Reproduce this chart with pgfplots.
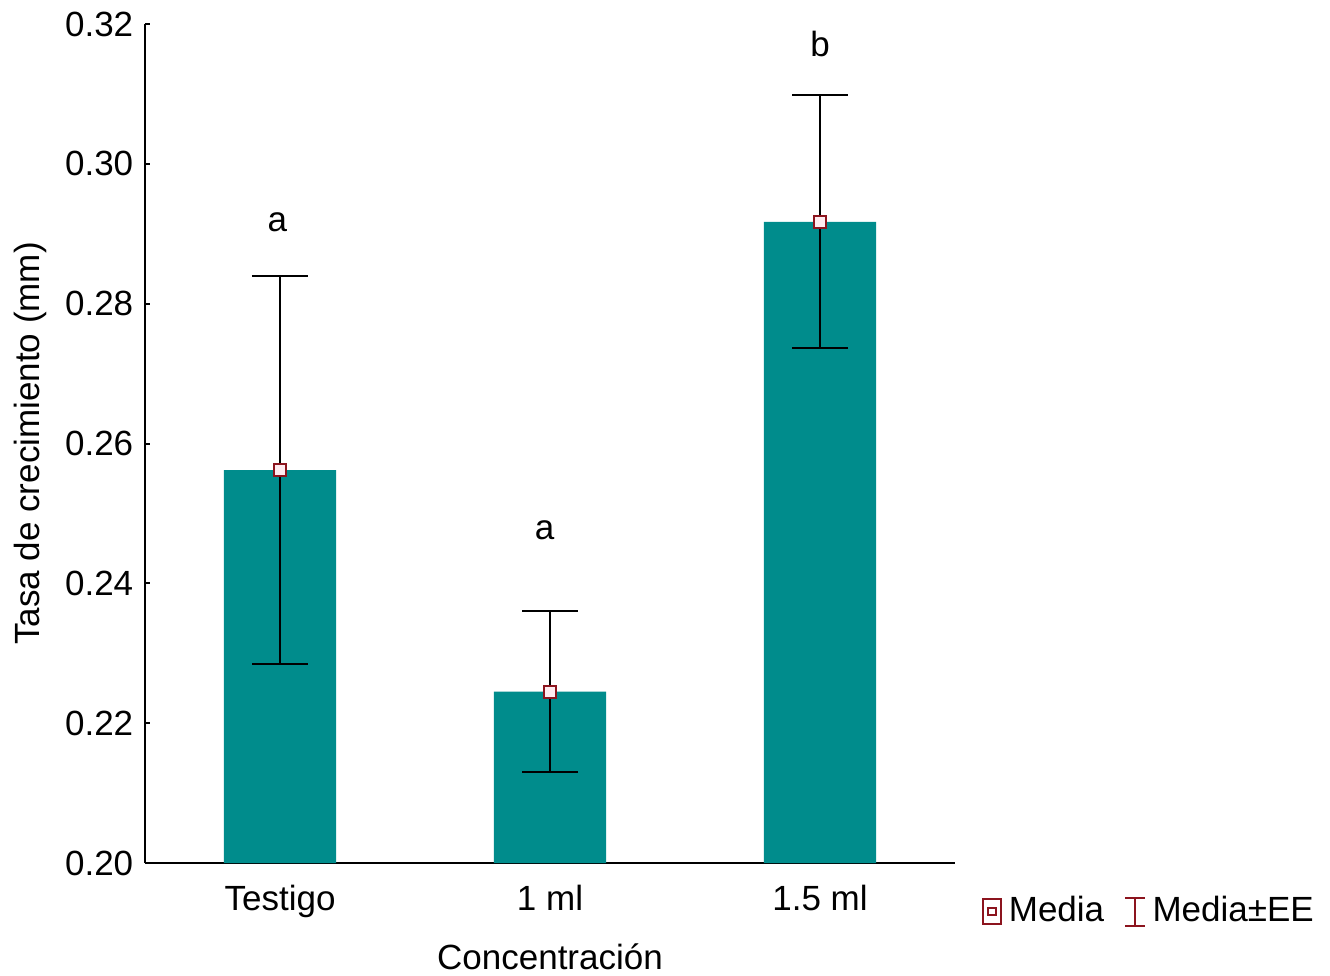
\documentclass[border=0pt]{standalone}
\usepackage{pgfplots}
\pgfplotsset{compat=1.18}
\usepackage{fontspec}
\setmainfont{Liberation Sans}
\definecolor{barteal}{RGB}{0,140,140}
\definecolor{mred}{RGB}{140,20,30}
\definecolor{mfill}{RGB}{255,235,240}
\begin{document}
\begin{tikzpicture}[x=1pt,y=1pt]
\path[use as bounding box] (-43.5,-33.6) rectangle (355.5,258.9);
\begin{axis}[
  scale only axis,
  width=243pt, height=251.7pt,
  at={(0,0)}, anchor=south west,
  xmin=-0.5, xmax=2.5,
  ymin=0.2, ymax=0.32,
  axis x line*=bottom, axis y line*=left,
  axis line style={line width=0.6pt},
  xtick={0,1,2},
  xticklabels={Testigo,1 ml,1.5 ml},
  ytick={0.20,0.22,0.24,0.26,0.28,0.30,0.32},
  yticklabel style={/pgf/number format/.cd,fixed,fixed zerofill,precision=2,assume math mode=true},
  tick align=inside,
  major tick length=1.5pt,
  tick style={line width=0.6pt,black},
  font=\fontsize{10.5}{12}\selectfont,
  xlabel={Concentración},
  ylabel={Tasa de crecimiento (mm)},
  xlabel style={yshift=-1pt},
  ylabel style={yshift=-1.5pt},
  xticklabel style={yshift=-3pt},
  legend style={draw=none, fill=none, at={(1.02,-0.058)}, anchor=west,
    font=\fontsize{10.5}{12}\selectfont, /tikz/every even column/.append style={column sep=4pt}},
  legend columns=2,
  clip=false,
]
\addplot[ybar, bar width=0.415, fill=barteal, draw=none, forget plot] coordinates {
  (0,0.2562) (1,0.2245) (2,0.2917)
};
\addplot[only marks, mark=square*, mark size=1.8pt, forget plot,
  mark options={draw=mred, fill=mfill, line width=0.6pt},
  error bars/.cd, y dir=both, y explicit,
  error bar style={line width=0.6pt, black},
  error mark options={rotate=90, line width=0.6pt, black, mark size=8.4pt}]
  coordinates {
  (0,0.2562) +- (0,0.0278)
  (1,0.2245) +- (0,0.0115)
  (2,0.2917) +- (0,0.0181)
};
\addlegendimage{legend image code/.code={
  \draw[mred,line width=0.6pt,fill=white] (0.05em,-0.38em) rectangle (0.6em,0.38em);
  \draw[mred,line width=0.5pt] (0.2em,-0.1em) rectangle (0.45em,0.12em);}}
\addlegendentry{Media}
\addlegendimage{legend image code/.code={
  \draw[mred,line width=0.5pt] (0.05em,-0.42em)--(0.65em,-0.42em) (0.35em,-0.42em)--(0.35em,0.42em) (0.05em,0.42em)--(0.65em,0.42em);}}
\addlegendentry{Media±EE}
\node[font=\fontsize{10.5}{12}\selectfont] at (axis cs:-0.01,0.2916) {a};
\node[font=\fontsize{10.5}{12}\selectfont] at (axis cs:0.98,0.2476) {a};
\node[font=\fontsize{10.5}{12}\selectfont] at (axis cs:2,0.3172) {b};
\end{axis}
\end{tikzpicture}
\end{document}
